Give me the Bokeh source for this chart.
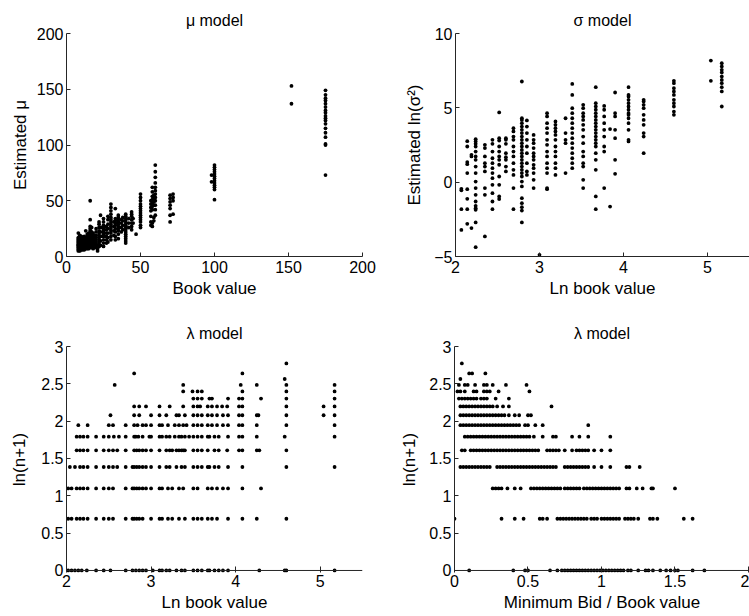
from bokeh.plotting import figure
from bokeh.layouts import column, row
from bokeh.models import Range1d, FixedTicker, Span
from bokeh.embed import file_html
from bokeh.resources import INLINE

# ---------------- data ----------------
# Panel 1: mu model (book value -> estimated mu)
mu_book = [8, 9, 10, 11, 12, 13, 14, 15, 16, 17, 18, 19, 20, 21, 22, 23, 25, 27, 28, 30,
           32, 33, 35, 37, 38, 40, 42, 44, 45, 47, 50, 57, 58, 59, 60, 70, 72, 98, 100, 152, 175]
mu_est = [
    [5, 6, 7, 8, 9, 10, 11, 12, 13, 14, 15, 16, 17, 21],
    [5, 6, 7, 8, 9, 10, 11, 12, 13, 14, 15, 17, 19],
    [6, 7, 8, 9, 10, 11, 12, 13, 14, 15, 16, 18],
    [6, 7, 8, 9, 10, 11, 12, 13, 15, 17],
    [6, 7, 8, 9, 10, 11, 12, 13, 14, 16, 18],
    [7, 8, 9, 10, 11, 12, 13, 15, 17, 23],
    [7, 8, 9, 10, 11, 12, 14, 16, 18, 20],
    [7, 8, 10, 11, 12, 13, 15, 17, 19, 21],
    [8, 9, 10, 12, 13, 15, 17, 19, 21, 23, 25, 27, 33, 50],
    [8, 10, 11, 13, 14, 16, 18, 20, 22, 26],
    [7, 9, 10, 12, 14, 16, 18, 21],
    [8, 9, 11, 13, 15, 17, 19],
    [8, 10, 11, 13, 15, 17, 19, 22, 25],
    [5, 7, 10],
    [9, 11, 13, 15, 17, 19, 21, 23, 26, 29, 31],
    [10, 14, 18, 22, 26, 37],
    [9, 12, 15, 18, 20, 22, 24, 26, 28, 31, 34],
    [12, 15, 18, 21, 24, 27],
    [13, 17, 21, 25, 29, 33, 36],
    [15, 18, 21, 23, 25, 27, 29, 31, 33, 35, 38, 41, 44, 47],
    [19, 23, 27, 31],
    [15, 18, 22, 25, 28, 30, 32, 34, 43],
    [16, 20, 23, 25, 27, 29, 31, 33, 35, 37],
    [22, 26, 30, 33],
    [24, 28, 32, 35],
    [12, 14, 16, 18, 20, 22, 24, 26, 28, 30, 32, 34, 36, 38],
    [26, 30, 34],
    [24, 27, 30, 33, 36, 38, 40],
    [30, 34],
    [20],
    [26, 28, 31, 33, 35, 37, 39, 41, 43, 45, 47, 50, 53, 56],
    [28, 31, 36, 41, 44, 47, 50],
    [27, 30, 42, 45, 48, 51, 54, 58, 62],
    [32, 35, 46, 49, 52, 55],
    [37, 42, 46, 50, 53, 56, 59, 62, 66, 71, 76, 82],
    [31, 37, 43, 46, 49, 52, 55],
    [38, 50, 53, 56],
    [67, 73],
    [51, 60, 62, 64, 66, 68, 70, 72, 74, 76, 78, 80, 82],
    [137, 153],
    [73, 100, 101, 107, 111, 115, 119, 122, 124, 126, 129, 131, 134, 137, 140, 142, 145, 149],
]

# Panel 2: sigma model (ln book value -> estimated ln(sigma^2))
sig_ln_book = [2.07, 2.14, 2.19, 2.24, 2.35, 2.44, 2.52, 2.60, 2.69, 2.79, 2.85, 2.93, 3.00,
               3.09, 3.19, 3.31, 3.39, 3.52, 3.67, 3.77, 3.84, 3.90, 4.06, 4.24, 4.60, 5.04, 5.17]
sig_est = [
    [-0.45, -0.55, -1.82, -3.21],
    [2.76, 2.4, 1.35, 1.21, 0.61, -0.47, -1.12, -1.82, -2.8],
    [1.84, 1.73, -3.09],
    [2.89, 2.74, 2.58, 2.4, 2.06, 1.73, 1.5, 1.05, 0.61, 0.04, -0.4, -0.85, -1.3, -1.59, -1.75, -1.86, -2.71, -4.37],
    [2.51, 2.29, 1.73, 1.28, 1.05, 0.72, -0.4, -0.85, -3.65],
    [2.85, 2.58, 2.06, 1.61, 1.28, 0.94, 0.61, 0.27, -0.18, -0.74, -1.3, -1.82],
    [4.69, 2.96, 2.8, 2.4, 2.06, 1.73, 1.5, 1.17, 0.38, -0.18, -0.96, -1.14],
    [2.96, 2.85, 2.58, 1.95, 1.68, 1.5, 1.05, 0.72],
    [3.63, 3.41, 3.07, 2.85, 2.4, 2.06, 1.73, 1.28, 0.83, 0.49, -0.4, -1.82],
    [6.77, 4.3, 4.19, 3.97, 3.74, 3.52, 3.3, 3.07, 2.85, 2.62, 2.4, 2.17, 1.95, 1.73, 1.5, 1.28,
     1.05, 0.83, 0.61, 0.38, 0.04, -0.29, -1.08, -1.41, -1.68, -1.91, -2.71],
    [4.15, 3.74, 3.3, 2.85, 2.4, 1.95, 1.28, 0.72, 0.49],
    [3.18, 2.85, 2.62, 2.29, 1.95, 1.73, 1.5, 1.17, 0.94, 0.61, 0.16, -0.4],
    [-4.89],
    [4.64, 4.42, 3.97, 3.63, 3.3, 2.85, 2.51, 2.06, 1.73, 1.28, 0.94, 0.61, -0.4, -0.47],
    [4.08, 3.86, 3.63, 3.41, 3.18, 2.85, 2.4, 2.06, 1.73, 1.28, 0.94, 0.49],
    [4.3, 3.3, 2.85, 2.62, 0.61],
    [6.61, 5.87, 4.98, 4.64, 4.3, 3.97, 3.63, 3.3, 2.96, 2.62, 2.29, 1.95, 1.61, 1.28, 0.94],
    [5.2, 4.98, 4.64, 4.42, 4.19, 3.86, 3.52, 3.07, 2.62, 2.06, 1.73, 1.28, 1.05, 0.16, -0.4],
    [6.39, 5.31, 5.09, 4.87, 4.64, 4.42, 4.19, 3.97, 3.74, 3.52, 3.3, 3.07, 2.85, 2.62, 2.4,
     1.95, 1.5, 0.83, -0.96, -1.82],
    [5.13, 4.87, 4.42, 3.97, 3.52, 3.07, 2.4, 2.06, -0.4],
    [3.57, -1.64],
    [6.03, 4.64, 4.42, 3.52, 2.96, 1.5, 0.56],
    [6.39, 5.87, 5.76, 5.54, 5.31, 5.09, 4.87, 4.64, 4.53, 4.3, 3.97, 3.52, 2.85, 2.74],
    [5.54, 5.43, 5.2, 4.98, 4.53, 4.19, 3.86, 3.3, 3.07, 1.95],
    [6.82, 6.66, 6.32, 6.1, 5.87, 5.54, 5.31, 5.09, 4.75, 4.53],
    [8.18, 6.82],
    [8.0, 7.78, 7.56, 7.38, 7.11, 6.88, 6.66, 6.39, 6.1, 5.09],
]

# Panels 3 & 4: lambda model, observed ln(n+1) levels
lam_levels = [0.0, 0.693, 1.099, 1.386, 1.609, 1.792, 1.946, 2.079, 2.197, 2.303,
              2.398, 2.485, 2.565, 2.639, 2.773]

# Panel 3: ln book value at each level
lam_ln_book = [
    [2.02, 2.06, 2.10, 2.14, 2.18, 2.24, 2.35, 2.44, 2.52, 2.70, 2.78, 2.82, 2.86, 2.90, 2.94,
     3.02, 3.10, 3.13, 3.18, 3.22, 3.30, 3.36, 3.40, 3.50, 3.55, 3.60, 3.67, 3.69, 3.75, 3.80,
     3.85, 3.91, 4.28, 4.58, 4.60, 5.17],
    [2.02, 2.06, 2.12, 2.16, 2.20, 2.25, 2.35, 2.44, 2.50, 2.55, 2.70, 2.78, 2.80, 2.83, 2.86,
     2.90, 3.00, 3.10, 3.13, 3.20, 3.25, 3.33, 3.40, 3.50, 3.55, 3.60, 3.67, 3.72, 3.78, 3.91,
     4.08, 4.25, 4.60],
    [2.02, 2.06, 2.12, 2.16, 2.20, 2.25, 2.35, 2.44, 2.50, 2.55, 2.70, 2.78, 2.80, 2.83, 2.86,
     2.90, 2.94, 3.00, 3.10, 3.13, 3.20, 3.25, 3.33, 3.38, 3.50, 3.55, 3.67, 3.72, 3.78, 3.85,
     3.91, 4.08, 4.30],
    [2.04, 2.10, 2.16, 2.20, 2.25, 2.35, 2.44, 2.50, 2.55, 2.60, 2.70, 2.78, 2.80, 2.83, 2.86,
     2.90, 2.94, 3.00, 3.10, 3.18, 3.22, 3.30, 3.36, 3.40, 3.50, 3.55, 3.60, 3.67, 3.69, 3.75,
     3.80, 3.91, 4.08, 4.60, 5.17],
    [2.12, 2.16, 2.20, 2.25, 2.35, 2.44, 2.50, 2.55, 2.60, 2.70, 2.80, 2.83, 2.86, 2.90, 2.94,
     3.00, 3.10, 3.18, 3.22, 3.25, 3.30, 3.33, 3.36, 3.38, 3.40, 3.50, 3.55, 3.60, 3.67, 3.75,
     3.80, 3.90, 4.04, 4.08, 4.25, 4.28, 4.60],
    [2.12, 2.16, 2.20, 2.25, 2.35, 2.44, 2.50, 2.56, 2.62, 2.70, 2.80, 2.82, 2.85, 2.90, 2.98,
     3.00, 3.10, 3.13, 3.18, 3.22, 3.28, 3.33, 3.36, 3.40, 3.45, 3.50, 3.55, 3.60, 3.67, 3.69,
     3.75, 3.80, 3.91, 4.04, 4.08, 4.25, 4.58, 5.17],
    [2.14, 2.25, 2.50, 2.55, 2.70, 2.80, 2.84, 2.90, 2.94, 3.00, 3.10, 3.13, 3.20, 3.28, 3.33,
     3.38, 3.42, 3.50, 3.55, 3.60, 3.67, 3.72, 3.78, 3.85, 3.91, 4.04, 4.08, 4.25, 4.60, 5.17],
    [2.52, 2.80, 2.86, 3.00, 3.10, 3.18, 3.30, 3.33, 3.40, 3.50, 3.55, 3.60, 3.67, 3.72, 3.78,
     3.85, 3.91, 4.04, 4.08, 4.25, 4.27, 4.60, 5.04, 5.17],
    [2.80, 2.86, 2.94, 3.10, 3.22, 3.38, 3.50, 3.55, 3.58, 3.67, 3.72, 3.78, 3.84, 3.90, 4.04,
     4.08, 4.60, 5.04, 5.17],
    [3.50, 3.55, 3.60, 3.69, 3.72, 3.91, 4.04, 4.08, 4.30, 4.60, 5.17],
    [3.38, 3.49, 3.55, 3.60, 4.08, 4.60, 5.17],
    [2.57, 3.38, 4.06, 4.25, 4.60, 5.17],
    [4.58],
    [2.80, 4.08],
    [4.60],
]

# Panel 4: minimum bid / book value at each level
lam_bid_ratio = [
    [0.10, 0.40, 0.48, 0.50, 0.65, 0.70, 0.73, 0.75, 0.77, 0.79, 0.81, 0.83, 0.85, 0.87, 0.89,
     0.91, 0.93, 0.95, 0.97, 0.99, 1.01, 1.03, 1.05, 1.07, 1.09, 1.11, 1.13, 1.15, 1.18, 1.20,
     1.25, 1.30, 1.32, 1.35, 1.40, 1.44, 1.47, 1.50, 1.52, 1.62, 1.70],
    [0.00, 0.32, 0.41, 0.47, 0.58, 0.60, 0.63, 0.70, 0.72, 0.74, 0.76, 0.78, 0.80, 0.82, 0.84,
     0.86, 0.88, 0.90, 0.93, 0.95, 0.97, 1.00, 1.02, 1.04, 1.06, 1.08, 1.10, 1.12, 1.16, 1.18,
     1.20, 1.22, 1.25, 1.33, 1.35, 1.38, 1.56, 1.62],
    [0.26, 0.28, 0.30, 0.32, 0.36, 0.41, 0.45, 0.52, 0.54, 0.56, 0.58, 0.60, 0.62, 0.64, 0.66,
     0.68, 0.70, 0.72, 0.75, 0.77, 0.79, 0.81, 0.83, 0.85, 0.88, 0.90, 0.92, 0.94, 0.96, 0.98,
     1.00, 1.02, 1.04, 1.06, 1.08, 1.10, 1.12, 1.17, 1.19, 1.24, 1.28, 1.34, 1.35, 1.50],
    [0.04, 0.06, 0.08, 0.10, 0.12, 0.14, 0.16, 0.18, 0.20, 0.22, 0.24, 0.29, 0.31, 0.33, 0.35,
     0.37, 0.39, 0.41, 0.43, 0.45, 0.47, 0.49, 0.51, 0.53, 0.55, 0.57, 0.59, 0.61, 0.63, 0.65,
     0.67, 0.69, 0.75, 0.77, 0.79, 0.81, 0.83, 0.85, 0.87, 0.89, 0.91, 0.95, 1.00, 1.06, 1.17,
     1.19, 1.26],
    [0.05, 0.07, 0.11, 0.13, 0.15, 0.17, 0.19, 0.21, 0.23, 0.25, 0.27, 0.29, 0.31, 0.33, 0.35,
     0.37, 0.39, 0.41, 0.43, 0.45, 0.47, 0.49, 0.51, 0.53, 0.55, 0.57, 0.63, 0.65, 0.67, 0.69,
     0.71, 0.75, 0.80, 0.83, 0.85, 0.87, 0.89, 0.91, 0.95, 1.00, 1.06],
    [0.07, 0.09, 0.11, 0.13, 0.15, 0.17, 0.19, 0.21, 0.23, 0.25, 0.27, 0.29, 0.31, 0.33, 0.35,
     0.37, 0.39, 0.41, 0.43, 0.45, 0.47, 0.49, 0.51, 0.54, 0.60, 0.67, 0.69, 0.80, 0.85, 0.91,
     1.06],
    [0.04, 0.06, 0.08, 0.10, 0.12, 0.14, 0.16, 0.18, 0.20, 0.22, 0.24, 0.26, 0.28, 0.30, 0.32,
     0.34, 0.36, 0.38, 0.40, 0.42, 0.44, 0.48, 0.50, 0.55, 0.60, 0.91],
    [0.04, 0.06, 0.08, 0.10, 0.12, 0.14, 0.16, 0.18, 0.20, 0.22, 0.24, 0.26, 0.28, 0.30, 0.32,
     0.34, 0.37, 0.41, 0.44, 0.50, 0.52],
    [0.04, 0.06, 0.08, 0.10, 0.12, 0.14, 0.16, 0.18, 0.20, 0.22, 0.24, 0.26, 0.29, 0.33, 0.37,
     0.66],
    [0.03, 0.05, 0.07, 0.09, 0.11, 0.13, 0.15, 0.18, 0.20, 0.22, 0.28, 0.37],
    [0.02, 0.04, 0.07, 0.13, 0.15, 0.20, 0.22, 0.24, 0.30, 0.51],
    [0.03, 0.07, 0.09, 0.14, 0.20, 0.22, 0.26, 0.35, 0.49],
    [0.04],
    [0.10, 0.12, 0.21],
    [0.05],
]

titles = ["\u03bc model", "\u03c3 model", "\u03bb model", "\u03bb model"]

# ---------------- styling helpers ----------------
FONT = "Liberation Sans"
AX = "#262626"


def flatten_cols(xs, cols):
    px, py = [], []
    for x, ys in zip(xs, cols):
        for y in ys:
            px.append(x)
            py.append(y)
    return px, py


def flatten_rows(levels, rows):
    px, py = [], []
    for lv, xs in zip(levels, rows):
        for x in xs:
            px.append(x)
            py.append(lv)
    return px, py


def make_fig(title, w, h, xr, yr, bl, br, bt, bb, xticks, yticks, xlabel, ylabel,
             ylab_standoff, yover=None):
    p = figure(width=w, height=h, x_range=Range1d(*xr), y_range=Range1d(*yr),
               output_backend="svg", toolbar_location=None, tools="",
               min_border_left=bl, min_border_right=br, min_border_top=bt, min_border_bottom=bb,
               title=title)
    p.title.align = "center"
    p.title.text_font = FONT
    p.title.text_font_size = "16px"
    p.title.text_font_style = "normal"
    p.title.text_color = "black"
    p.outline_line_color = None
    p.grid.visible = False
    p.background_fill_color = "white"
    p.border_fill_color = "white"
    for ax, ticks, lab in ((p.xaxis[0], xticks, xlabel), (p.yaxis[0], yticks, ylabel)):
        ax.ticker = FixedTicker(ticks=ticks)
        ax.axis_label = lab
        ax.axis_label_text_font = FONT
        ax.axis_label_text_font_size = "17px"
        ax.axis_label_text_font_style = "normal"
        ax.axis_label_text_color = "black"
        ax.major_label_text_font = FONT
        ax.major_label_text_font_size = "16px"
        ax.major_label_text_color = "black"
        ax.axis_line_color = AX
        ax.major_tick_line_color = AX
        ax.major_tick_in = 4
        ax.major_tick_out = 0
        ax.minor_tick_in = 0
        ax.minor_tick_out = 0
        ax.major_label_standoff = 3
    p.yaxis[0].axis_label_standoff = ylab_standoff
    p.xaxis[0].major_label_standoff = 4
    p.xaxis[0].axis_label_standoff = 3
    if yover:
        p.yaxis[0].major_label_overrides = yover
    return p


def dots(p, x, y):
    p.scatter(x, y, marker="circle", size=3.8, fill_color="black", line_color=None)


def zero_baseline(p):
    # the frame reaches a little below 0 so that dots on the axis are drawn whole;
    # the x axis line itself is drawn at y = 0
    p.xaxis[0].axis_line_color = None
    p.xaxis[0].major_tick_in = 6
    p.xaxis[0].major_label_standoff = 2
    p.yaxis[0].bounds = (0, 3)
    p.add_layout(Span(location=0, dimension="width", line_color=AX, line_width=1))


# Panel 1
p1 = make_fig(titles[0], 390, 308, (0, 200), (0, 200), 66, 28, 33, 52,
              [0, 50, 100, 150, 200], [0, 50, 100, 150, 200], "Book value", "Estimated \u03bc", 4)
dots(p1, *flatten_cols(mu_book, mu_est))

# Panel 2
p2 = make_fig(titles[1], 359, 308, (2, 5.5), (-5, 10), 65, 0, 33, 52,
              [2, 3, 4, 5], [-5, 0, 5, 10], "Ln book value", "Estimated ln(\u03c3\u00b2)",
              7, yover={-5: "\u22125"})
dots(p2, *flatten_cols(sig_ln_book, sig_est))

# Panel 3
lev_ticks = [0, 0.5, 1, 1.5, 2, 2.5, 3]
p3 = make_fig(titles[2], 390, 308, (2, 5.5), (-0.027, 3), 66, 28, 38, 44,
              [2, 3, 4, 5], lev_ticks, "Ln book value", "ln(n+1)", 9)
zero_baseline(p3)
dots(p3, *flatten_rows(lam_levels, lam_ln_book))

# Panel 4
p4 = make_fig(titles[3], 359, 308, (0, 2.007), (-0.027, 3), 64, 0, 38, 44,
              [0, 0.5, 1, 1.5, 2], lev_ticks, "Minimum Bid / Book value", "ln(n+1)", 7)
zero_baseline(p4)
dots(p4, *flatten_rows(lam_levels, lam_bid_ratio))

layout = column(row(p1, p2), row(p3, p4))
open("out.html", "w").write(file_html(layout, INLINE))
